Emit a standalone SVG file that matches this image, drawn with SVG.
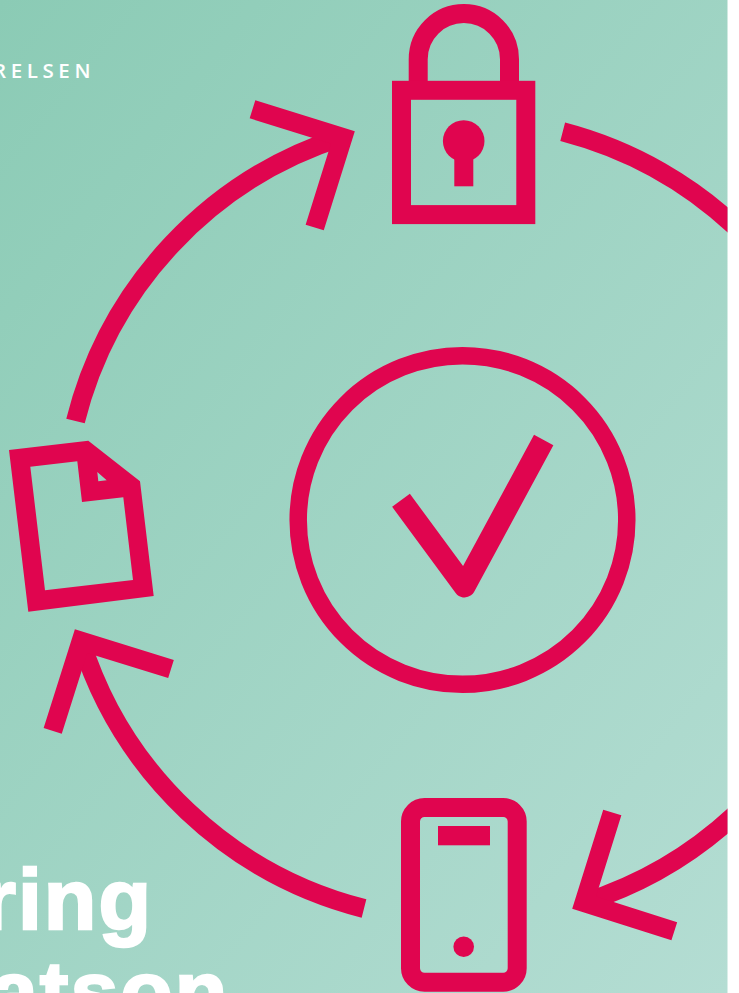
<svg xmlns="http://www.w3.org/2000/svg" width="739" height="993" viewBox="0 0 739 993">
  <style>
    .line { fill: none; stroke: #e0054f; stroke-width: 19; stroke-miterlimit: 10; }
    .solid { fill: #e0054f; }
    .title { font-family: "Liberation Sans", Arial, sans-serif; font-weight: 700; font-size: 86px; letter-spacing: 2px; fill: #ffffff; stroke: #ffffff; stroke-width: 2.4; }
  </style>
  <defs>
    <linearGradient id="bg" gradientUnits="userSpaceOnUse" x1="0" y1="0" x2="925" y2="747">
      <stop offset="0" stop-color="#8bcbb5"/>
      <stop offset="1" stop-color="#b4ddd3"/>
    </linearGradient>
    <clipPath id="page"><rect x="0" y="0" width="727.5" height="993"/></clipPath>
  </defs>
  <rect width="739" height="993" fill="#ffffff"/>
  <rect id="background" width="727.5" height="993" fill="url(#bg)"/>
  <g clip-path="url(#page)">
    <g id="header">
      <text x="-7" y="77.7" font-family="'Open Sans', sans-serif" font-weight="600" font-size="20.5" letter-spacing="4.6" fill="#ffffff">RELSEN</text>
    </g>
    <g id="title">
      <text class="title" x="-17.5" y="929">ring</text>
      <text class="title" x="-10" y="1021">atson</text>
    </g>
    <g id="connectors">
      <path class="line" d="M75.5 421 A400 400 0 0 1 342 137"/>
      <polyline class="line" points="252.5,109.3 342.9,137.4 314.7,227.5"/>
      <path class="line" d="M562.7 131.7 A401 401 0 0 1 745 236"/>
      <path class="line" d="M745 805 A401 401 0 0 1 584 902.6"/>
      <polyline class="line" points="612.3,812.5 584.1,902.6 674.3,931.2"/>
      <path class="line" d="M364 908.5 A400 400 0 0 1 81 641"/>
      <polyline class="line" points="171,669 81.1,641.1 52.7,730.8"/>
    </g>
    <g id="lock">
      <path class="line" d="M418.2 85 V59.2 A45.65 45.65 0 0 1 509.5 59.2 V85"/>
      <rect class="line" x="401.5" y="90.3" width="124.3" height="124.3"/>
      <circle class="solid" cx="463.7" cy="141" r="20.8"/>
      <rect class="solid" x="454.3" y="150" width="19" height="36.3"/>
    </g>
    <g id="document">
      <path class="solid" fill-rule="evenodd" d="M9 450 L88.3 440.7 L140 481.3 L153.7 596 L28.3 611.7 Z M30.3 466.7 L77.3 461.3 L82 502 L123.3 497.3 L133 580 L45 590.3 Z M97.3 472 L106.7 480.3 L98.3 481.3 Z"/>
    </g>
    <g id="phone">
      <rect class="line" x="410.5" y="807.5" width="106.7" height="174.7" rx="14" ry="14"/>
      <rect class="solid" x="438" y="826" width="52" height="19.3"/>
      <circle class="solid" cx="463.7" cy="946.7" r="10.3"/>
    </g>
    <g id="check">
      <circle class="line" cx="462.5" cy="520" r="164.3" style="stroke-width:17.5"/>
      <polyline class="line" points="401,500.3 464.5,586.5 543.7,440" style="stroke-width:22;stroke-linejoin:round"/>
    </g>
  </g>
</svg>
